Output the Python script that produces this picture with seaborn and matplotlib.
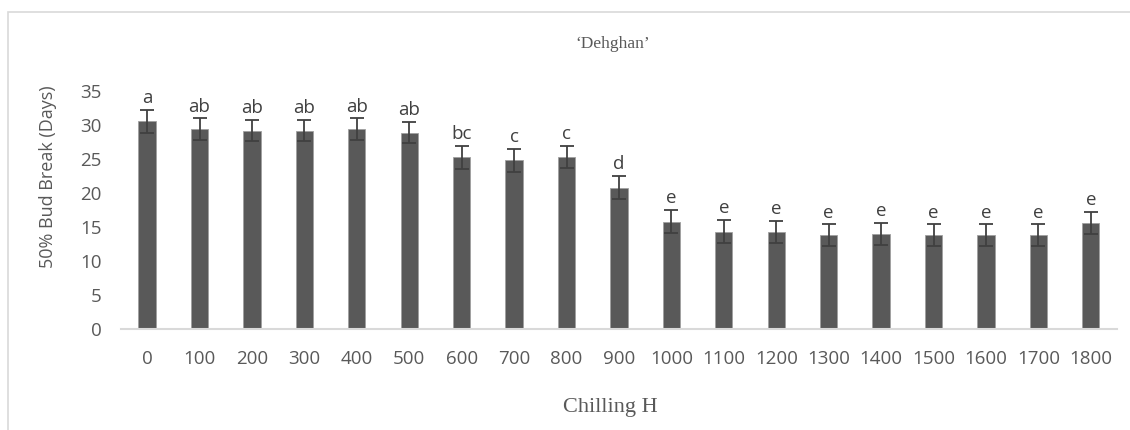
import matplotlib
matplotlib.use("Agg")
import matplotlib.pyplot as plt
import seaborn as sns
import pandas as pd
from matplotlib.patches import Rectangle

sns.set_theme(style="white")
plt.rcParams['font.family'] = ['Open Sans', 'DejaVu Sans']

# Data
hours = ['0', '100', '200', '300', '400', '500', '600', '700', '800', '900',
         '1000', '1100', '1200', '1300', '1400', '1500', '1600', '1700', '1800']
bud_break = [30.6, 29.4, 29.2, 29.2, 29.4, 28.9, 25.3, 24.8, 25.3, 20.8,
             15.8, 14.3, 14.3, 13.8, 14.0, 13.8, 13.8, 13.8, 15.6]
errors = [1.7, 1.6, 1.6, 1.6, 1.6, 1.6, 1.7, 1.65, 1.6, 1.7,
          1.7, 1.7, 1.6, 1.6, 1.65, 1.6, 1.6, 1.6, 1.65]
letters = ['a', 'ab', 'ab', 'ab', 'ab', 'ab', 'bc', 'c', 'c', 'd',
           'e', 'e', 'e', 'e', 'e', 'e', 'e', 'e', 'e']

df = pd.DataFrame({'Chilling': hours, 'BudBreak': bud_break, 'SE': errors, 'Letter': letters})

fig = plt.figure(figsize=(11.3, 4.3), dpi=100)
ax = fig.add_axes([0.107, 0.235, 0.8815, 0.553])

sns.barplot(data=df, x='Chilling', y='BudBreak', order=hours, color='#595959',
            width=0.33, saturation=1, edgecolor='#a0a0a0', linewidth=0.6,
            errorbar=None, ax=ax)

xpos = range(len(hours))
ax.errorbar(xpos, df['BudBreak'], yerr=df['SE'], fmt='none', ecolor='#404040',
            elinewidth=1.3, capsize=5, capthick=1.3)

for i, (v, e, t) in enumerate(zip(df['BudBreak'], df['SE'], df['Letter'])):
    ax.annotate(t, (i, v + e), xytext=(0, 2), textcoords='offset points',
                ha='center', va='bottom', fontsize=13.5, color='#404040')

ax.set_ylim(0, 35)
ax.set_xlim(-0.5, len(hours) - 0.5)
ax.set_yticks(range(0, 36, 5))
ax.tick_params(axis='x', length=0, pad=15, labelsize=13.5, labelcolor='#595959')
ax.tick_params(axis='y', length=0, pad=14, labelsize=13.5, labelcolor='#595959')

for s in ['top', 'right', 'left']:
    ax.spines[s].set_visible(False)
ax.spines['bottom'].set_color('#d9d9d9')
ax.spines['bottom'].set_linewidth(1.5)

ax.set_xlabel('')
ax.set_ylabel('')
fig.text(0.0425, 0.589, '50% Bud Break (Days)', rotation=90, ha='center', va='center',
         fontsize=13, color='#595959')
fig.text(0.54, 0.0512, 'Chilling H', ha='center', va='center', fontsize=16,
         color='#595959', family=['Liberation Serif', 'DejaVu Serif'])
fig.text(0.542, 0.898, '\u2018Dehghan\u2019', ha='center', va='center', fontsize=12.5,
         color='#595959', family=['Liberation Serif', 'DejaVu Serif'])

# light outer chart frame
fig.patches.append(Rectangle((0.007, -0.1), 1.2, 0.972 + 0.1, transform=fig.transFigure,
                             fill=False, edgecolor='#d9d9d9', linewidth=1.2))

fig.savefig('out.png', dpi=100)
